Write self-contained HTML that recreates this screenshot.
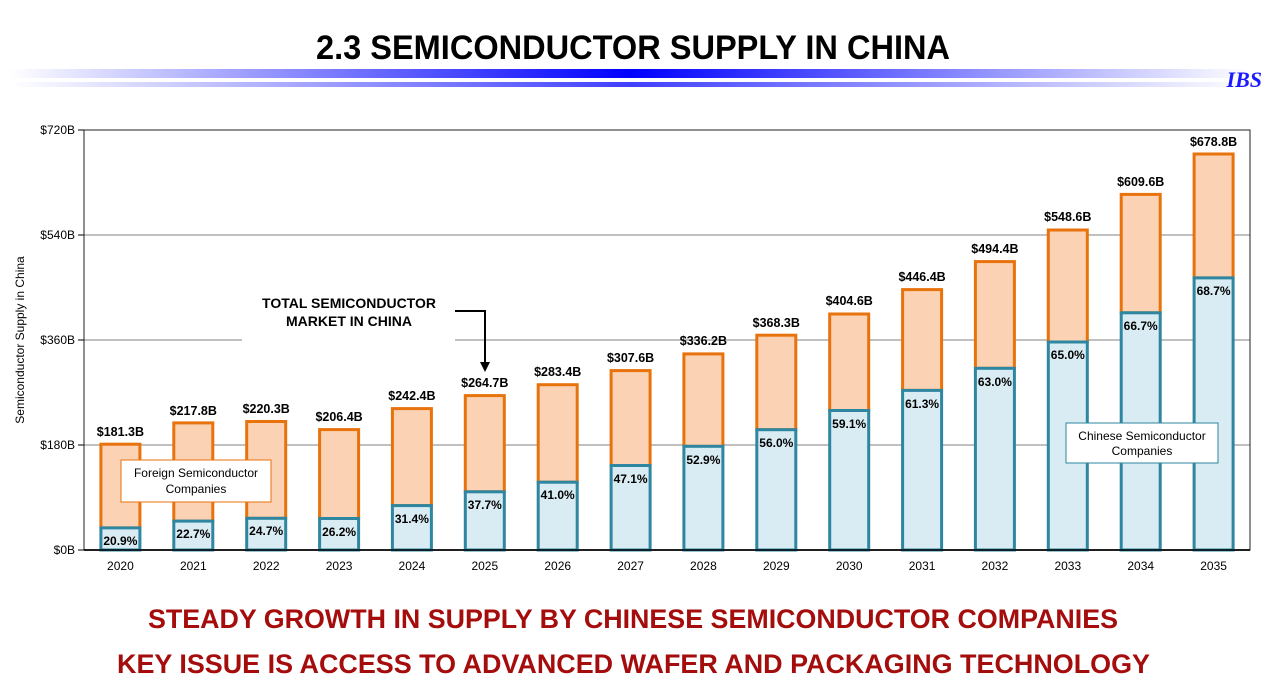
<!DOCTYPE html>
<html><head><meta charset="utf-8"><style>
html,body{margin:0;padding:0;background:#fff;}
svg{display:block;font-family:"Liberation Sans",Arial,sans-serif;}
</style></head><body>
<svg width="1271" height="687" viewBox="0 0 1271 687" xmlns="http://www.w3.org/2000/svg">
<defs>
<linearGradient id="g" x1="0" x2="1" y1="0" y2="0">
<stop offset="0" stop-color="#fff"/>
<stop offset="0.5" stop-color="#0000ff"/>
<stop offset="1" stop-color="#fff"/>
</linearGradient>
</defs>
<text x="316" y="59" font-size="34" font-weight="bold" textLength="634" lengthAdjust="spacingAndGlyphs">2.3  SEMICONDUCTOR SUPPLY IN CHINA</text>
<rect x="10" y="69" width="1240" height="9" fill="url(#g)"/>
<rect x="10" y="82" width="1240" height="5" fill="url(#g)" opacity="0.75"/>
<text x="1262" y="87" text-anchor="end" font-family="Liberation Serif,serif" font-style="italic" font-weight="bold" font-size="22" fill="#1a1aff">IBS</text>

<g stroke="#808080" stroke-width="1">
<line x1="84" y1="235" x2="1250" y2="235"/>
<line x1="84" y1="340" x2="242" y2="340"/>
<line x1="455" y1="340" x2="1250" y2="340"/>
<line x1="84" y1="445" x2="1250" y2="445"/>
</g>
<rect x="84" y="130" width="1166" height="420" fill="none" stroke="#222" stroke-width="1"/>
<line x1="84" y1="550" x2="1250" y2="550" stroke="#000" stroke-width="1.5"/>
<g stroke="#000" stroke-width="1">
<line x1="78" y1="130" x2="84" y2="130"/><line x1="78" y1="235" x2="84" y2="235"/><line x1="78" y1="340" x2="84" y2="340"/><line x1="78" y1="445" x2="84" y2="445"/><line x1="78" y1="550" x2="84" y2="550"/>
</g>
<g font-size="12" text-anchor="end">
<text x="75" y="134">$720B</text><text x="75" y="239">$540B</text><text x="75" y="344">$360B</text><text x="75" y="449">$180B</text><text x="75" y="554">$0B</text>
</g>
<text transform="translate(24 340) rotate(-90)" text-anchor="middle" font-size="12">Semiconductor Supply in China</text>

<g stroke-width="3">
<g fill="#fbd3b4" stroke="#e8720c">
<rect x="100.9" y="444.2" width="39" height="83.7"/>
<rect x="173.8" y="422.9" width="39" height="98.2"/>
<rect x="246.7" y="421.5" width="39" height="96.8"/>
<rect x="319.6" y="429.6" width="39" height="88.9"/>
<rect x="392.4" y="408.6" width="39" height="97"/>
<rect x="465.3" y="395.6" width="39" height="96.2"/>
<rect x="538.2" y="384.7" width="39" height="97.5"/>
<rect x="611.1" y="370.6" width="39" height="94.9"/>
<rect x="683.9" y="353.9" width="39" height="92.4"/>
<rect x="756.8" y="335.2" width="39" height="94.5"/>
<rect x="829.7" y="314.0" width="39" height="96.5"/>
<rect x="902.6" y="289.6" width="39" height="100.8"/>
<rect x="975.4" y="261.6" width="39" height="106.7"/>
<rect x="1048.3" y="230.0" width="39" height="112"/>
<rect x="1121.2" y="194.4" width="39" height="118.4"/>
<rect x="1194.1" y="154.0" width="39" height="123.9"/>
</g>
<g fill="#d9ecf3" stroke="#2e86a0">
<rect x="100.9" y="527.9" width="39" height="22.1"/>
<rect x="173.8" y="521.1" width="39" height="28.9"/>
<rect x="246.7" y="518.3" width="39" height="31.7"/>
<rect x="319.6" y="518.5" width="39" height="31.5"/>
<rect x="392.4" y="505.6" width="39" height="44.4"/>
<rect x="465.3" y="491.8" width="39" height="58.2"/>
<rect x="538.2" y="482.2" width="39" height="67.8"/>
<rect x="611.1" y="465.5" width="39" height="84.5"/>
<rect x="683.9" y="446.3" width="39" height="103.7"/>
<rect x="756.8" y="429.7" width="39" height="120.3"/>
<rect x="829.7" y="410.5" width="39" height="139.5"/>
<rect x="902.6" y="390.4" width="39" height="159.6"/>
<rect x="975.4" y="368.3" width="39" height="181.7"/>
<rect x="1048.3" y="342.0" width="39" height="208"/>
<rect x="1121.2" y="312.8" width="39" height="237.2"/>
<rect x="1194.1" y="277.9" width="39" height="272.1"/>
</g>
</g>
<line x1="84" y1="550" x2="1250" y2="550" stroke="#000" stroke-width="1.5"/>

<g font-size="12.5" font-weight="bold" text-anchor="middle">
<text x="120.4" y="436">$181.3B</text>
<text x="193.3" y="415">$217.8B</text>
<text x="266.2" y="413">$220.3B</text>
<text x="339.1" y="421">$206.4B</text>
<text x="411.9" y="400">$242.4B</text>
<text x="484.8" y="387">$264.7B</text>
<text x="557.7" y="376">$283.4B</text>
<text x="630.6" y="362">$307.6B</text>
<text x="703.4" y="345">$336.2B</text>
<text x="776.3" y="327">$368.3B</text>
<text x="849.2" y="305">$404.6B</text>
<text x="922.1" y="281">$446.4B</text>
<text x="994.9" y="253">$494.4B</text>
<text x="1067.8" y="221">$548.6B</text>
<text x="1140.7" y="186">$609.6B</text>
<text x="1213.6" y="146">$678.8B</text>
</g>
<g font-size="12" font-weight="bold" text-anchor="middle">
<text x="120.4" y="545">20.9%</text>
<text x="193.3" y="538">22.7%</text>
<text x="266.2" y="535">24.7%</text>
<text x="339.1" y="536">26.2%</text>
<text x="411.9" y="523">31.4%</text>
<text x="484.8" y="509">37.7%</text>
<text x="557.7" y="499">41.0%</text>
<text x="630.6" y="483">47.1%</text>
<text x="703.4" y="464">52.9%</text>
<text x="776.3" y="447">56.0%</text>
<text x="849.2" y="428">59.1%</text>
<text x="922.1" y="408">61.3%</text>
<text x="994.9" y="386">63.0%</text>
<text x="1067.8" y="359">65.0%</text>
<text x="1140.7" y="330">66.7%</text>
<text x="1213.6" y="295">68.7%</text>
</g>
<g font-size="12" text-anchor="middle">
<text x="120.4" y="570">2020</text><text x="193.3" y="570">2021</text><text x="266.2" y="570">2022</text><text x="339.1" y="570">2023</text>
<text x="411.9" y="570">2024</text><text x="484.8" y="570">2025</text><text x="557.7" y="570">2026</text><text x="630.6" y="570">2027</text>
<text x="703.4" y="570">2028</text><text x="776.3" y="570">2029</text><text x="849.2" y="570">2030</text><text x="922.1" y="570">2031</text>
<text x="994.9" y="570">2032</text><text x="1067.8" y="570">2033</text><text x="1140.7" y="570">2034</text><text x="1213.6" y="570">2035</text>
</g>

<rect x="121" y="460" width="150" height="42" fill="#fff" stroke="#e8720c" stroke-width="1"/>
<text x="196" y="477" text-anchor="middle" font-size="12">Foreign Semiconductor</text>
<text x="196" y="493" text-anchor="middle" font-size="12">Companies</text>
<rect x="1066" y="423" width="152" height="40" fill="#fff" stroke="#2e86a0" stroke-width="1"/>
<text x="1142" y="440" text-anchor="middle" font-size="12">Chinese Semiconductor</text>
<text x="1142" y="455" text-anchor="middle" font-size="12">Companies</text>

<text x="349" y="308" text-anchor="middle" font-size="14" font-weight="bold">TOTAL SEMICONDUCTOR</text>
<text x="349" y="326" text-anchor="middle" font-size="14" font-weight="bold">MARKET IN CHINA</text>
<polyline points="455,311 485,311 485,364" fill="none" stroke="#000" stroke-width="2"/>
<polygon points="480,362 490,362 485,372" fill="#000"/>

<text x="148" y="628" font-size="27" font-weight="bold" fill="#a50d0d" textLength="970" lengthAdjust="spacingAndGlyphs">STEADY GROWTH IN SUPPLY BY CHINESE SEMICONDUCTOR COMPANIES</text>
<text x="117" y="673" font-size="27" font-weight="bold" fill="#a50d0d" textLength="1033" lengthAdjust="spacingAndGlyphs">KEY ISSUE IS ACCESS TO ADVANCED WAFER AND PACKAGING TECHNOLOGY</text>
</svg>
</body></html>
